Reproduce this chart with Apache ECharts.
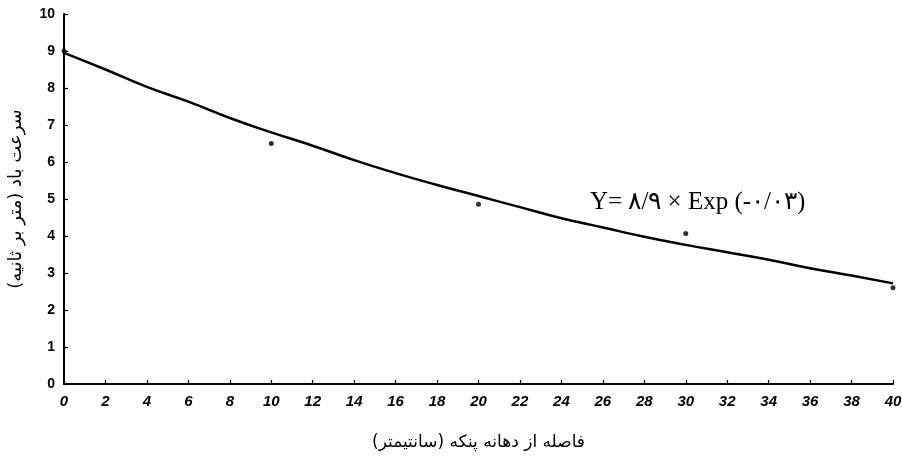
<!DOCTYPE html>
<html>
<head>
<meta charset="utf-8">
<script src="https://cdn.jsdelivr.net/npm/echarts@6/dist/echarts.min.js"></script>
<style>
html,body{margin:0;padding:0;background:#fff;}
#c{width:902px;height:456px;}
</style>
</head>
<body>
<div id="c"></div>
<script>
// Fitted curve
var curveX = [0, 2, 4, 6, 8, 10, 12, 14, 16, 18, 20, 22, 24, 26, 28, 30, 32, 34, 36, 38, 40];
var curveY = [8.95, 8.5, 8.03, 7.63, 7.19, 6.8, 6.44, 6.05, 5.7, 5.38, 5.08, 4.78, 4.48, 4.23, 3.98, 3.76, 3.56, 3.36, 3.13, 2.93, 2.72];
// Measured points
var pointX = [0, 10, 20, 30, 40];
var pointY = [9.0, 6.5, 4.86, 4.07, 2.6];
// Axis ticks
var xMin = 0, xMax = 40, xStep = 2;
var yMin = 0, yMax = 10, yStep = 1;
// Texts
var xTitle = 'فاصله از دهانه پنکه (سانتیمتر)';
var yTitle = 'سرعت باد (متر بر ثانیه)';
var formula = 'Y= ۸/۹ × Exp (-۰/۰۳)';

var curve = curveX.map(function (x, i) { return [x, curveY[i]]; });
var pts = pointX.map(function (x, i) { return [x, pointY[i]]; });

var chart = echarts.init(document.getElementById('c'));
chart.setOption({
  backgroundColor: '#fff',
  animation: false,
  grid: { left: 64, right: 9, top: 14, bottom: 72, containLabel: false, outerBoundsMode: 'none' },
  xAxis: {
    type: 'value', min: xMin, max: xMax, interval: xStep,
    name: xTitle, nameLocation: 'middle', nameGap: 50,
    nameTextStyle: { color: '#000', fontSize: 17, fontFamily: 'DejaVu Sans' },
    axisLine: { lineStyle: { color: '#000', width: 2 } },
    axisTick: { inside: true, length: 4, lineStyle: { color: '#000', width: 1.2 } },
    axisLabel: { color: '#000', fontSize: 15, fontWeight: 'bold', fontStyle: 'italic', fontFamily: 'Liberation Sans', margin: 10 },
    splitLine: { show: false }
  },
  yAxis: {
    type: 'value', min: yMin, max: yMax, interval: yStep,
    name: yTitle, nameLocation: 'middle', nameGap: 39, nameRotate: 90,
    nameTextStyle: { color: '#000', fontSize: 18, fontFamily: 'DejaVu Sans' },
    axisLine: { lineStyle: { color: '#000', width: 2 } },
    axisTick: { inside: true, length: 4, lineStyle: { color: '#000', width: 1.2 } },
    axisLabel: { color: '#000', fontSize: 14, fontWeight: 'bold', fontFamily: 'Liberation Sans', margin: 9 },
    splitLine: { show: false }
  },
  series: [
    {
      type: 'line', data: curve, smooth: true, showSymbol: false,
      lineStyle: { color: '#000', width: 2.5 }
    },
    {
      type: 'scatter', data: pts, symbolSize: 5,
      itemStyle: { color: '#000' }
    }
  ],
  graphic: [
    {
      type: 'text', left: 590, top: 190,
      style: { text: formula, fill: '#000', font: '25px "Liberation Serif", "DejaVu Serif", serif' }
    }
  ]
});
</script>
</body>
</html>
